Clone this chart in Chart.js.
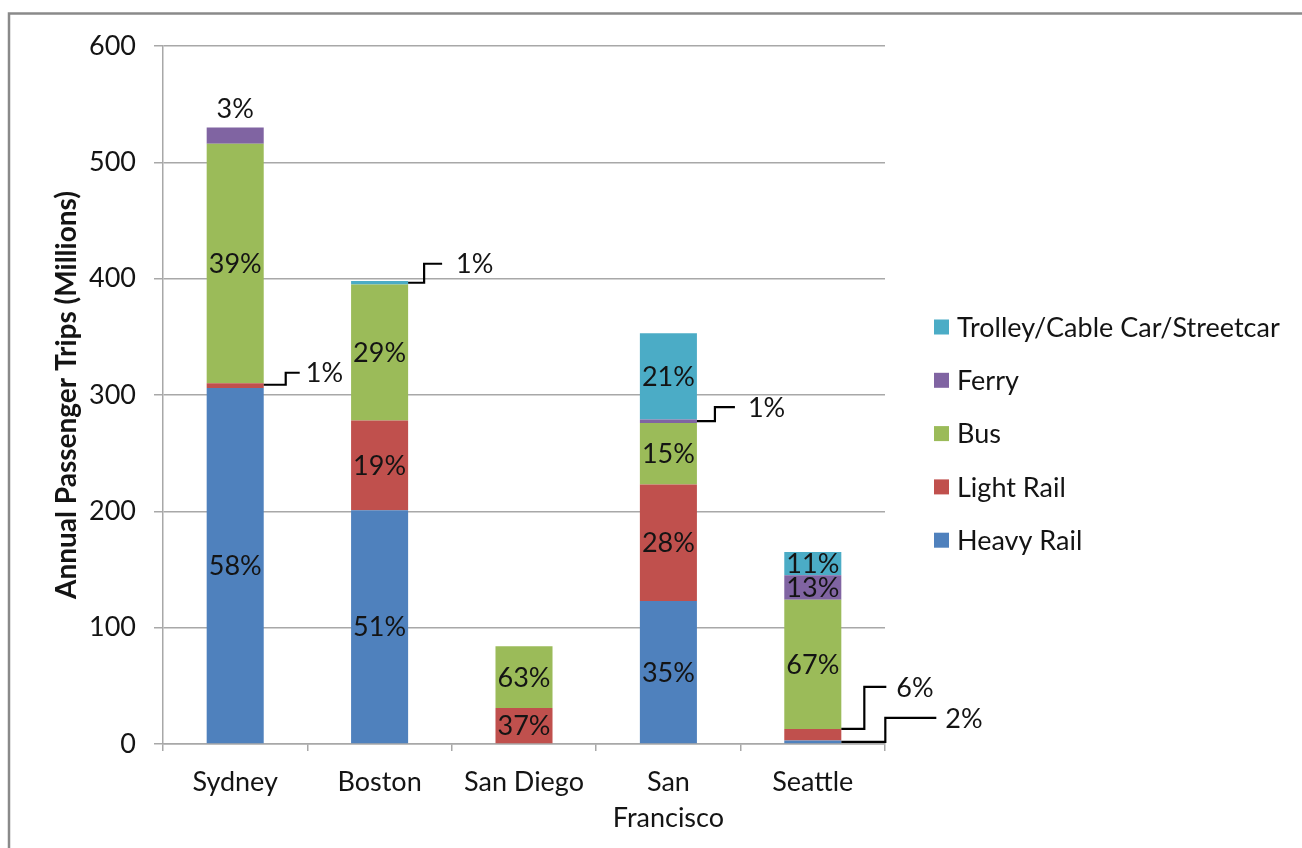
<!DOCTYPE html>
<html><head><meta charset="utf-8">
<script src="https://cdn.jsdelivr.net/npm/chart.js@4"></script>
<style>html,body{margin:0;padding:0;background:#fff;overflow:hidden}#wrap{width:1302px;height:848px;position:relative}</style>
</head><body><div id="wrap"><canvas id="c" width="1302" height="848"></canvas></div>
<script>
// ---- data ----
const categories = ['Sydney', 'Boston', 'San Diego', ['San', 'Francisco'], 'Seattle'];
const seriesNames = ['Heavy Rail', 'Light Rail', 'Bus', 'Ferry', 'Trolley/Cable Car/Streetcar'];
const heavyRail = [306, 201, 0, 123, 3];
const lightRail = [4, 77, 31, 100, 10];
const bus = [206, 117, 53, 53, 111];
const ferry = [14, 0, 0, 3, 21];
const trolley = [0, 3, 0, 74, 20];
const heavyRailPct = ['58%', '51%', '', '35%', '2%'];
const lightRailPct = ['1%', '19%', '37%', '28%', '6%'];
const busPct = ['39%', '29%', '63%', '15%', '67%'];
const ferryPct = ['3%', '', '', '1%', '13%'];
const trolleyPct = ['', '1%', '', '21%', '11%'];
const yTicks = [0, 100, 200, 300, 400, 500, 600];
const yTitle = 'Annual Passenger Trips (Millions)';

// ---- style ----
const colors = ['#4F81BD', '#C0504D', '#9BBB59', '#8064A2', '#4BACC6'];
const FONT = "Lato, 'Open Sans', sans-serif";
const TXT = '#141414';
const GRID = '#a8a8a8';
const values = [heavyRail, lightRail, bus, ferry, trolley];
const pcts = [heavyRailPct, lightRailPct, busPct, ferryPct, trolleyPct];

const labelPlacement = {
  above: [{ s: 3, i: 0, dy: -18 }],
  callouts: [
    { s: 1, i: 0, anchor: 0.7, elbowDx: 22, rise: -12, endDx: 36, gap: 6 },
    { s: 4, i: 1, anchor: 0.5, elbowDx: 16, rise: -19, endDx: 34, gap: 14 },
    { s: 3, i: 3, anchor: 0.5, elbowDx: 18, rise: -14, endDx: 38, gap: 13 },
    { s: 1, i: 4, anchor: 1.0, elbowDx: 23, rise: -42, endDx: 45, gap: 10 },
    { s: 0, i: 4, anchor: 0.5, elbowDx: 44, rise: -24, endDx: 95, gap: 9 }
  ]
};
const legendStyle = { boxX: 934, boxSize: 15, textX: 957, firstY: 327, stepY: 53.3, font: '27px ' + FONT };

const framePlugin = {
  id: 'frame',
  beforeDraw(chart) {
    const ctx = chart.ctx;
    ctx.save();
    ctx.strokeStyle = '#8a8a8a';
    ctx.lineWidth = 2.5;
    ctx.beginPath();
    ctx.moveTo(9, 860); ctx.lineTo(9, 13.5); ctx.lineTo(1310, 13.5);
    ctx.stroke();
    ctx.restore();
  }
};

const labelPlugin = {
  id: 'pctLabels',
  afterDatasetsDraw(chart) {
    const ctx = chart.ctx;
    ctx.save();
    ctx.font = '27px ' + FONT;
    ctx.fillStyle = TXT;
    ctx.textBaseline = 'middle';
    pcts.forEach((arr, s) => {
      const meta = chart.getDatasetMeta(s);
      arr.forEach((txt, i) => {
        if (!txt) return;
        const el = meta.data[i];
        const top = Math.min(el.y, el.base), bot = Math.max(el.y, el.base);
        const right = el.x + el.width / 2;
        const co = labelPlacement.callouts.find(c => c.s === s && c.i === i);
        const ab = labelPlacement.above.find(c => c.s === s && c.i === i);
        if (co) {
          const ay = bot - (bot - top) * co.anchor;
          const ey = ay + co.rise;
          ctx.strokeStyle = '#000';
          ctx.lineWidth = 2.2;
          ctx.beginPath();
          ctx.moveTo(right, ay);
          ctx.lineTo(right + co.elbowDx, ay);
          ctx.lineTo(right + co.elbowDx, ey);
          ctx.lineTo(right + co.endDx, ey);
          ctx.stroke();
          ctx.textAlign = 'left';
          ctx.fillText(txt, right + co.endDx + co.gap, ey + 1);
        } else if (ab) {
          ctx.textAlign = 'center';
          ctx.fillText(txt, el.x, top + ab.dy);
        } else {
          ctx.textAlign = 'center';
          ctx.fillText(txt, el.x, (top + bot) / 2 + 1);
        }
      });
    });
    ctx.restore();
  }
};

const legendPlugin = {
  id: 'sideLegend',
  afterDraw(chart) {
    const ctx = chart.ctx;
    const ds = chart.data.datasets;
    ctx.save();
    ctx.font = legendStyle.font;
    ctx.textBaseline = 'middle';
    ctx.textAlign = 'left';
    for (let k = 0; k < ds.length; k++) {
      const d = ds[ds.length - 1 - k];
      const cy = legendStyle.firstY + k * legendStyle.stepY;
      ctx.fillStyle = d.backgroundColor;
      ctx.fillRect(legendStyle.boxX, cy - legendStyle.boxSize / 2, legendStyle.boxSize, legendStyle.boxSize);
      ctx.fillStyle = TXT;
      ctx.fillText(d.label, legendStyle.textX, cy + 1);
    }
    ctx.restore();
  }
};

new Chart(document.getElementById('c'), {
  type: 'bar',
  data: {
    labels: categories,
    datasets: seriesNames.map((n, s) => ({
      label: n,
      data: values[s],
      backgroundColor: colors[s],
      borderWidth: 0,
      barPercentage: 0.395,
      categoryPercentage: 1
    }))
  },
  options: {
    responsive: false,
    devicePixelRatio: 1,
    animation: false,
    layout: { padding: { left: 0, right: 417, top: 46, bottom: 0 } },
    plugins: { legend: { display: false }, tooltip: { enabled: false } },
    scales: {
      x: {
        stacked: true,
        grid: { display: true, drawOnChartArea: false, drawTicks: true, tickLength: 7, color: GRID, lineWidth: 1.5, offset: true },
        border: { display: true, color: GRID, width: 1.5 },
        ticks: { font: { family: FONT, size: 27, lineHeight: 1.333 }, color: TXT, padding: 13, maxRotation: 0 },
        afterFit: s => { s.height = 104; }
      },
      y: {
        stacked: true,
        min: 0, max: 600,
        afterBuildTicks: s => { s.ticks = yTicks.map(v => ({ value: v })); },
        ticks: { font: { family: FONT, size: 27 }, color: TXT, padding: 18 },
        grid: { color: GRID, lineWidth: 1.5, tickLength: 9 },
        border: { display: true, color: GRID, width: 1.5 },
        title: { display: true, text: yTitle, font: { family: FONT, size: 28, weight: 'bold' }, color: TXT, padding: { top: 50, bottom: 0 } },
        afterFit: s => { s.width = 163; }
      }
    }
  },
  plugins: [framePlugin, labelPlugin, legendPlugin]
});
</script></body></html>
